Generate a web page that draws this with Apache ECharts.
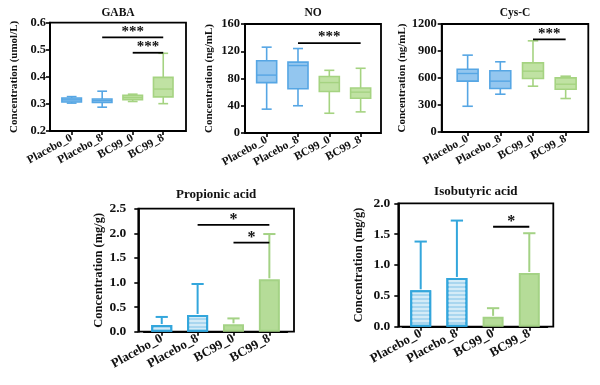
<!DOCTYPE html>
<html>
<head>
<meta charset="utf-8">
<script src="https://cdn.jsdelivr.net/npm/echarts@6/dist/echarts.min.js"></script>
<style>html,body{margin:0;padding:0;background:#fff}#c{width:600px;height:385px}</style>
</head>
<body>
<div id="c"></div>
<script>
// ---------- data ----------
const categories = ['Placebo_0', 'Placebo_8', 'BC99_0', 'BC99_8'];
// box plots: [min, Q1, median, Q3, max]
const gabaBox = [[0.303, 0.307, 0.315, 0.322, 0.327], [0.288, 0.305, 0.312, 0.318, 0.347], [0.309, 0.316, 0.324, 0.332, 0.336], [0.301, 0.326, 0.355, 0.398, 0.487]];
const noBox = [[35, 74, 85, 106, 126], [40, 65, 99, 104, 124], [29, 61, 74, 83, 92], [31, 51, 60, 66, 95]];
const cysBox = [[286, 565, 650, 698, 854], [420, 483, 565, 680, 780], [509, 594, 676, 768, 1013], [372, 475, 531, 601, 620]];
// bar charts: mean and top of error bar
const propMean = [0.135, 0.34, 0.15, 1.065];
const propErr = [0.30, 0.97, 0.27, 1.985];
const isoMean = [0.59, 0.79, 0.16, 0.87];
const isoErr = [1.38, 1.72, 0.30, 1.515];
// significance: [fromIndex, toIndex, y, label]
const gabaSig = [[1, 3, 0.546, '***'], [2, 3, 0.489, '***']];
const noSig = [[1, 3, 132, '***']];
const cysSig = [[2, 3, 1029, '***']];
const propSig = [[1, 3, 2.17, '*'], [2, 3, 1.81, '*']];
const isoSig = [[2, 3, 1.62, '*']];
// axis ticks
const gabaTicks = {min: 0.2, max: 0.6, interval: 0.1};
const noTicks = {min: 0, max: 160, interval: 40};
const cysTicks = {min: 0, max: 1200, interval: 300};
const propTicks = {min: 0, max: 2.5, interval: 0.5};
const isoTicks = {min: 0, max: 2.0, interval: 0.5};

// ---------- styles / layout ----------
const FONT = 'Liberation Serif';
const BLUE_BOX = {fill: '#93c6ef', line: '#56a6e4'};
const GREEN_BOX = {fill: '#c0e2a3', line: '#a5d381'};
const BLUE_BAR = {fill: '#a9d6ef', line: '#33a6dc'};
const GREEN_BAR = {fill: '#b5dc98', line: '#a4d285'};

const panels = [
  {title: 'GABA', yName: 'Concentration (umol/L)', ticks: gabaTicks, dec: 1, kind: 'box', box: gabaBox, sig: gabaSig,
   frame: {left: 50, top: 22.7, width: 136, height: 108.3}, inner: {left: 56.4, width: 122.1}, fs: 11.5, yfs: 12.5, lm: 4, nameGap: 30, titleY: 12.7},
  {title: 'NO', yName: 'Concentration (ng/mL)', ticks: noTicks, dec: 0, kind: 'box', box: noBox, sig: noSig,
   frame: {left: 245, top: 24, width: 136, height: 109}, inner: {left: 251, width: 125.3}, fs: 11.5, yfs: 12.5, lm: 5, nameGap: 30, titleY: 13},
  {title: 'Cys-C', yName: 'Concentration (ng/mL)', ticks: cysTicks, dec: 0, kind: 'box', box: cysBox, sig: cysSig,
   frame: {left: 441.7, top: 24, width: 146.6, height: 108}, inner: {left: 451.3, width: 130.7}, fs: 11.5, yfs: 12.5, lm: 5, nameGap: 31, titleY: 13},
  {title: 'Propionic acid', yName: 'Concentration (mg/g)', ticks: propTicks, dec: 1, kind: 'bar', mean: propMean, err: propErr, sig: propSig,
   frame: {left: 138.3, top: 208.7, width: 155.7, height: 123}, inner: {left: 143.8, width: 143.5}, fs: 13, yfs: 13.5, lm: 12, nameGap: 33, titleY: 195},
  {title: 'Isobutyric acid', yName: 'Concentration (mg/g)', ticks: isoTicks, dec: 1, kind: 'bar', mean: isoMean, err: isoErr, sig: isoSig,
   frame: {left: 398.3, top: 203.3, width: 155, height: 123.4}, inner: {left: 402.6, width: 144.8}, fs: 13, yfs: 13.5, lm: 8, nameGap: 33, titleY: 191.7}
];

const grid = [], xAxis = [], yAxis = [], series = [], graphic = [];

panels.forEach((p, k) => {
  const gF = grid.length, gI = gF + 1;
  grid.push({left: p.frame.left, top: p.frame.top, width: p.frame.width, height: p.frame.height,
    show: true, borderColor: '#000', borderWidth: 1.8, backgroundColor: 'transparent'});
  grid.push({left: p.inner.left, top: p.frame.top, width: p.inner.width, height: p.frame.height});
  const txt = {fontFamily: FONT, fontWeight: 'bold', color: '#111', fontSize: p.fs};
  xAxis.push({gridIndex: gF, type: 'value', min: 0, max: 1, show: false});
  yAxis.push({gridIndex: gF, type: 'value', min: p.ticks.min, max: p.ticks.max, interval: p.ticks.interval,
    axisLine: {show: true, lineStyle: {color: '#000', width: 1.8}},
    axisTick: {show: true, length: 4, lineStyle: {color: '#000', width: 1.6}},
    axisLabel: Object.assign({margin: p.lm, formatter: v => v.toFixed(p.dec)}, txt, {fontSize: p.yfs}),
    splitLine: {show: false},
    name: p.yName, nameLocation: 'middle', nameGap: p.nameGap,
    nameTextStyle: {fontFamily: FONT, fontWeight: 'bold', color: '#111', fontSize: p.fs - 0.5}});
  const xi = xAxis.length, yi = yAxis.length;
  xAxis.push({gridIndex: gI, type: 'category', data: categories,
    axisLine: {show: true, lineStyle: {color: '#000', width: 1.8}},
    axisTick: {show: true, alignWithLabel: true, length: 4, lineStyle: {color: '#000', width: 1.6}},
    axisLabel: Object.assign({rotate: 29, margin: 6, interval: 0}, txt)});
  yAxis.push({gridIndex: gI, type: 'value', min: p.ticks.min, max: p.ticks.max, show: false, splitLine: {show: false}});

  if (p.kind === 'box') {
    series.push({
      type: 'custom', xAxisIndex: xi, yAxisIndex: yi, z: 3,
      data: p.box.map((b, i) => [i].concat(b)),
      encode: {x: 0, y: [1, 2, 3, 4, 5]},
      renderItem: (params, api) => {
        const i = api.value(0);
        const c = i < 2 ? BLUE_BOX : GREEN_BOX;
        const pt = v => api.coord([i, v]);
        const cx = pt(api.value(1))[0];
        const yMin = pt(api.value(1))[1], yQ1 = pt(api.value(2))[1], yMed = pt(api.value(3))[1],
              yQ3 = pt(api.value(4))[1], yMax = pt(api.value(5))[1];
        const band = api.size([1, 0])[0];
        const hw = band * 0.32, cw = band * 0.16;
        const ls = {stroke: c.line, lineWidth: 1.6};
        return {type: 'group', children: [
          {type: 'line', shape: {x1: cx, y1: yMax, x2: cx, y2: yQ3}, style: ls},
          {type: 'line', shape: {x1: cx, y1: yQ1, x2: cx, y2: yMin}, style: ls},
          {type: 'line', shape: {x1: cx - cw, y1: yMax, x2: cx + cw, y2: yMax}, style: ls},
          {type: 'line', shape: {x1: cx - cw, y1: yMin, x2: cx + cw, y2: yMin}, style: ls},
          {type: 'rect', shape: {x: cx - hw, y: yQ3, width: 2 * hw, height: Math.max(yQ1 - yQ3, 1)},
            style: {fill: c.fill, stroke: c.line, lineWidth: 1.6}},
          {type: 'line', shape: {x1: cx - hw, y1: yMed, x2: cx + hw, y2: yMed}, style: {stroke: c.line, lineWidth: 1.4}}
        ]};
      }
    });
  } else {
    series.push({
      type: 'bar', xAxisIndex: xi, yAxisIndex: yi, barWidth: 21, z: 2,
      data: p.mean.map((v, i) => {
        const c = i < 2 ? BLUE_BAR : GREEN_BAR;
        const st = {color: c.fill, borderColor: c.line, borderWidth: 2};
        if (i < 2) st.decal = {symbol: 'rect', symbolSize: 1, dashArrayX: [1, 0], dashArrayY: [1.5, 1.5],
          rotation: 0, color: 'rgba(255,255,255,0.5)'};
        return {value: v, itemStyle: st};
      })
    });
    series.push({
      type: 'custom', xAxisIndex: xi, yAxisIndex: yi, z: 4,
      data: p.mean.map((v, i) => [i, v, p.err[i]]),
      encode: {x: 0, y: [1, 2]},
      renderItem: (params, api) => {
        const i = api.value(0);
        const c = i < 2 ? BLUE_BAR : GREEN_BAR;
        const a = api.coord([i, api.value(1)]), b = api.coord([i, api.value(2)]);
        const cw = api.size([1, 0])[0] * 0.17;
        const ls = {stroke: c.line, lineWidth: 2};
        return {type: 'group', children: [
          {type: 'line', shape: {x1: a[0], y1: a[1] - 1, x2: b[0], y2: b[1]}, style: ls},
          {type: 'line', shape: {x1: b[0] - cw, y1: b[1], x2: b[0] + cw, y2: b[1]}, style: ls}
        ]};
      }
    });
  }
  // significance bars
  series.push({
    type: 'custom', xAxisIndex: xi, yAxisIndex: yi, z: 5,
    data: p.sig.map(s => [s[0], s[1], s[2]]),
    encode: {x: [0, 1], y: 2},
    renderItem: (params, api) => {
      const s = p.sig[params.dataIndex];
      const a = api.coord([api.value(0), api.value(2)]), b = api.coord([api.value(1), api.value(2)]);
      return {type: 'group', children: [
        {type: 'line', shape: {x1: a[0], y1: a[1], x2: b[0], y2: b[1]}, style: {stroke: '#000', lineWidth: 1.8}},
        {type: 'text', x: (a[0] + b[0]) / 2, y: a[1] + (p.fs > 12 ? 3 : 2),
          style: {text: s[3], fontFamily: FONT, fontWeight: 'bold', fontSize: p.fs > 12 ? 16 : 15,
            fill: '#111', align: 'center', verticalAlign: 'bottom'}}
      ]};
    }
  });
  graphic.push({type: 'text', x: p.frame.left + p.frame.width / 2, y: p.titleY,
    style: {text: p.title, fontFamily: FONT, fontWeight: 'bold', fontSize: p.fs, fill: '#111',
      align: 'center', verticalAlign: 'middle'}});
});

const chart = echarts.init(document.getElementById('c'), null, {renderer: 'canvas'});
chart.setOption({animation: false, backgroundColor: '#fff', grid, xAxis, yAxis, series, graphic});
</script>
</body>
</html>
